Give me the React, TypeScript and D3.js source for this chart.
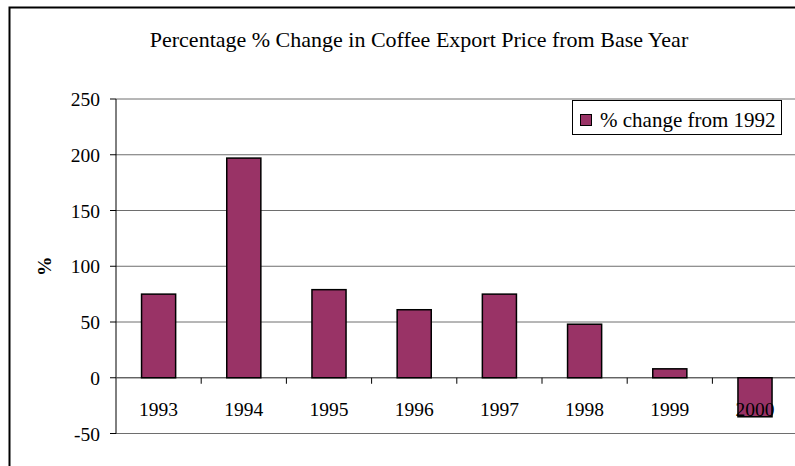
import * as d3 from 'd3'

const years = ['1993', '1994', '1995', '1996', '1997', '1998', '1999', '2000']
const changes = [75, 197, 79, 61, 75, 48, 8, -35]
const yTicks = [-50, 0, 50, 100, 150, 200, 250]
const title = 'Percentage % Change in Coffee Export Price from Base Year'
const seriesName = '% change from 1992'

const W = 795
const H = 466
const plot = { left: 116, top: 99, right: 797.6, bottom: 433.5 }
const font = "'Liberation Serif', 'DejaVu Serif', serif"
const fs = 19.5
const barColor = '#993366'

export default function App() {
  const x = d3.scaleBand<string>()
    .domain(years)
    .range([plot.left, plot.right])
    .padding(0)
  const y = d3.scaleLinear()
    .domain([-50, 250])
    .range([plot.bottom, plot.top])

  const bw = x.bandwidth()
  const y0 = y(0)
  const txt = { fontFamily: font, fontSize: fs, fill: '#000' }

  return (
    <svg
      width={W}
      height={H}
      style={{ position: 'absolute', left: 0, top: 0, background: '#fff' }}
    >
      {/* outer chart frame, cropped on right and bottom */}
      <rect x={9.5} y={7.5} width={900} height={600} fill="#fff" stroke="#000" strokeWidth={2} />

      <text x={419} y={47} textAnchor="middle" style={{ ...txt, fontSize: 22 }}>{title}</text>

      {/* gridlines */}
      {yTicks.map(t => (
        <line key={t} x1={plot.left} x2={plot.right} y1={y(t)} y2={y(t)} stroke="#6e6e6e" strokeWidth={1} />
      ))}

      {/* y axis */}
      <line x1={plot.left} x2={plot.left} y1={y(250)} y2={y(-50)} stroke="#000" strokeWidth={1} />
      {yTicks.map(t => (
        <g key={'yt' + t}>
          <line x1={plot.left - 6} x2={plot.left} y1={y(t)} y2={y(t)} stroke="#000" />
          <text x={100} y={y(t) + 7} textAnchor="end" style={txt}>{t}</text>
        </g>
      ))}

      <text
        transform={`translate(51,${(y(250) + y(-50)) / 2}) rotate(-90)`}
        textAnchor="middle"
        style={{ ...txt, fontWeight: 'bold' }}
      >%</text>

      {/* category axis at zero */}
      <line x1={plot.left} x2={plot.right} y1={y0} y2={y0} stroke="#555" strokeWidth={1} />
      {years.map(yr => (
        <line key={'xt' + yr} x1={(x(yr) as number) + bw} x2={(x(yr) as number) + bw} y1={y0} y2={y0 + 6} stroke="#000" />
      ))}

      {/* bars */}
      {years.map((yr, i) => {
        const v = changes[i]
        return (
          <rect
            key={'b' + yr}
            x={(x(yr) as number) + bw * 0.3}
            y={Math.min(y(v), y0)}
            width={bw * 0.4}
            height={Math.abs(y(v) - y0)}
            fill={barColor}
            stroke="#000"
            strokeWidth={1.5}
          />
        )
      })}

      {/* category labels */}
      {years.map(yr => (
        <text key={'xl' + yr} x={(x(yr) as number) + bw / 2} y={416} textAnchor="middle" style={txt}>{yr}</text>
      ))}

      {/* legend */}
      <rect x={572.5} y={100.5} width={209} height={34} fill="#fff" stroke="#000" strokeWidth={1} />
      <rect x={580.5} y={114.5} width={11} height={11} fill={barColor} stroke="#000" strokeWidth={1} />
      <text x={600} y={127} style={{ ...txt, fontSize: 21 }}>{seriesName}</text>
    </svg>
  )
}
